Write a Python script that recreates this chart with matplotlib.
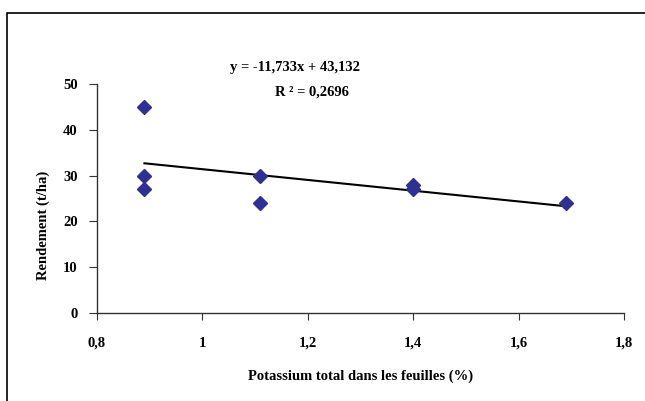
import numpy as np
import matplotlib
matplotlib.use("Agg")
import matplotlib.pyplot as plt
from matplotlib.patches import Rectangle

potassium = [0.89, 0.89, 0.89, 1.11, 1.11, 1.40, 1.40, 1.69]
rendement = [45, 30, 27, 30, 24, 28, 27, 24]
xticks = [0.8, 1.0, 1.2, 1.4, 1.6, 1.8]
xticklabels = ["0,8", "1", "1,2", "1,4", "1,6", "1,8"]
yticks = [0, 10, 20, 30, 40, 50]
eq_text = "y = -11,733x + 43,132"
r2_text = "R \u00b2 = 0,2696"

plt.rcParams['font.family'] = ['Liberation Serif', 'DejaVu Serif']
plt.rcParams['font.weight'] = 'bold'

fig = plt.figure(figsize=(6.45, 4.01), dpi=100)
ax = fig.add_axes([97/645, 1-313/401, (624-97)/645, (313-84)/401])

slope, intercept = np.polyfit(potassium, rendement, 1)
xs = np.array([min(potassium), max(potassium)])
ax.plot(xs, slope*xs + intercept, color='black', lw=1.5, zorder=2)
ax.plot(potassium, rendement, linestyle='none', marker='D', markersize=7,
        color='#2E3192', markeredgecolor='#2E3192', zorder=3)

ax.set_xlim(0.8, 1.8)
ax.set_ylim(0, 50)
ax.set_xticks(xticks)
ax.set_xticklabels(xticklabels)
ax.set_yticks(yticks)
ax.spines['top'].set_visible(False)
ax.spines['right'].set_visible(False)
for s in ['left', 'bottom']:
    ax.spines[s].set_color('#333333')
    ax.spines[s].set_linewidth(1.0)
ax.tick_params(axis='x', direction='out', length=5, pad=12, labelsize=10.5, colors='#333333', labelcolor='black')
ax.tick_params(axis='y', direction='out', length=6, pad=8, labelsize=10.5, colors='#333333', labelcolor='black')
for lbl in ax.get_xticklabels() + ax.get_yticklabels():
    lbl.set_fontweight('bold')

ax.set_xlabel("Potassium total dans les feuilles (%)", fontsize=10.5, fontweight='bold', labelpad=14)
fig.text(43/645, 1-225/401, "Rendement (t/ha)", rotation=90, ha='center', va='center',
         fontsize=10.5, fontweight='bold')

fig.text(295/645, 1-68/401, eq_text, ha='center', va='center', fontsize=10.5, fontweight='bold')
fig.text(312/645, 1-92/401, r2_text, ha='center', va='center', fontsize=10.5, fontweight='bold')

fig.patches.append(Rectangle((7/645, -0.1), 1.2, 1-13/401+0.1, transform=fig.transFigure,
                             fill=False, edgecolor='black', lw=1.2))

fig.savefig("out.png", dpi=100)
